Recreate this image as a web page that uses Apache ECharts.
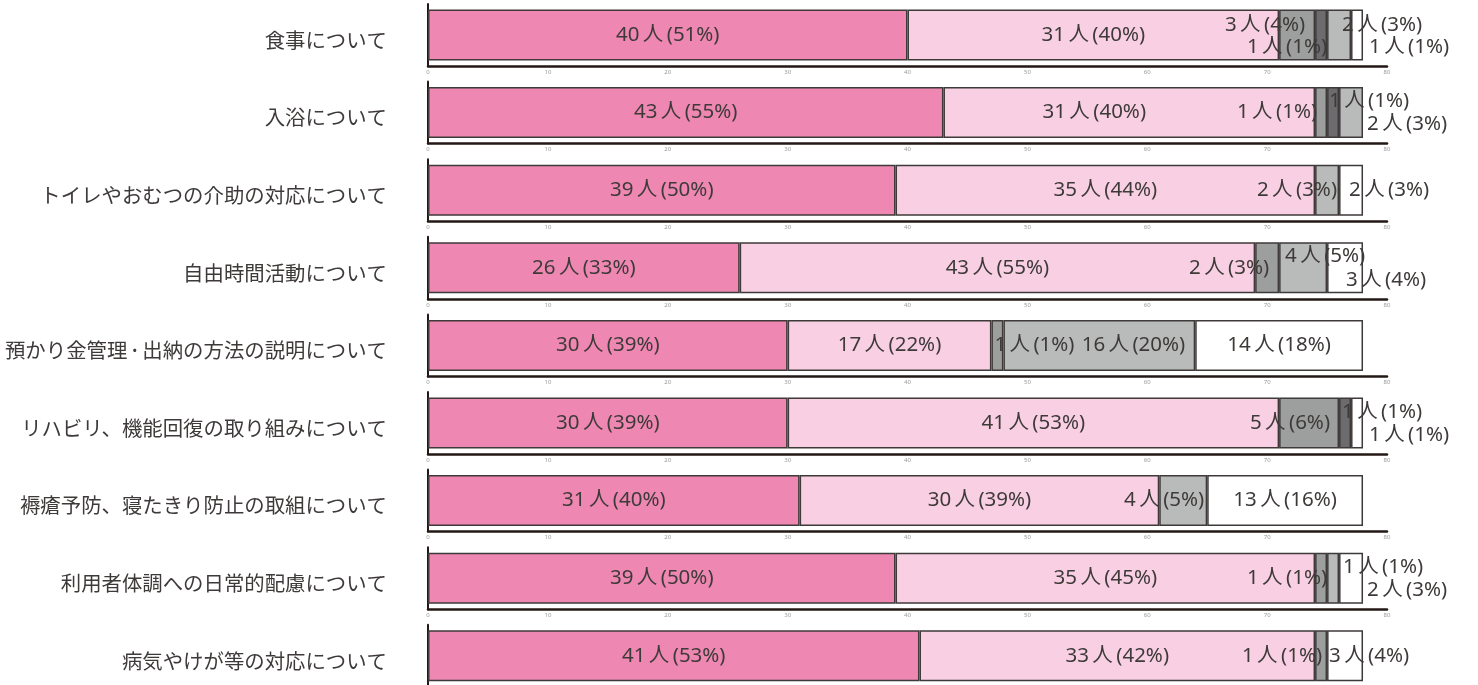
<!DOCTYPE html>
<html>
<head>
<meta charset="utf-8">
<style>
html,body{margin:0;padding:0;background:#fff;}
#chart{width:1478px;height:685px;}
</style>
<script src="https://cdn.jsdelivr.net/npm/echarts@6/dist/echarts.min.js"></script>
</head>
<body>
<div id="chart"></div>
<script>
// ---- data ----
const categories = [
  '食事について',
  '入浴について',
  'トイレやおむつの介助の対応について',
  '自由時間活動について',
  '預かり金管理・出納の方法の説明について',
  'リハビリ、機能回復の取り組みについて',
  '褥瘡予防、寝たきり防止の取組について',
  '利用者体調への日常的配慮について',
  '病気やけが等の対応について'
];
const xTicks = [0, 10, 20, 30, 40, 50, 60, 70, 80];
const count1 = [40, 43, 39, 26, 30, 30, 31, 39, 41];
const count2 = [31, 31, 35, 43, 17, 41, 30, 35, 33];
const count3 = [3, 1, 0, 2, 1, 5, 0, 1, 1];
const count4 = [1, 1, 0, 0, 0, 1, 0, 0, 0];
const count5 = [2, 2, 2, 4, 16, 0, 4, 1, 0];
const count6 = [1, 0, 2, 3, 14, 1, 13, 2, 3];
const pct1 = [51, 55, 50, 33, 39, 39, 40, 50, 53];
const pct2 = [40, 40, 44, 55, 22, 53, 39, 45, 42];
const pct3 = [4, 1, null, 3, 1, 6, null, 1, 1];
const pct4 = [1, 1, null, null, null, 1, null, null, null];
const pct5 = [3, 3, 3, 5, 20, null, 5, 1, null];
const pct6 = [1, null, 3, 4, 18, 1, 16, 3, 4];

// ---- styling / layout ----
const counts = [count1, count2, count3, count4, count5, count6];
const pcts = [pct1, pct2, pct3, pct4, pct5, pct6];
const colors = ['#ee87b1', '#f9d0e3', '#9d9f9e', '#6c6b6d', '#b9bbba', '#ffffff'];
const FONT = "'Noto Sans', 'Noto Sans CJK JP', sans-serif";
const CJK_FONT = "'Noto Sans CJK JP', 'Noto Sans', sans-serif";
const TXT = '#3e3a39';

// label placement rules: [row]-[series] -> {p: position, d: distance, o: [dx, dy]}
const place = {
  '0-2': {p: 'insideRight', d: 10, o: [0, -10]},
  '0-3': {p: 'insideRight', d: 0, o: [0, 12]},
  '0-4': {p: 'insideLeft', d: 15, o: [0, -10]},
  '0-5': {p: 'right', d: 6, o: [0, 12]},
  '1-1': {p: 'inside', d: 0, o: [-35, 0]},
  '1-2': {p: 'insideRight', d: 10, o: [0, 0]},
  '1-3': {p: 'insideLeft', d: 2, o: [0, -11]},
  '1-4': {p: 'right', d: 4, o: [0, 12]},
  '2-4': {p: 'insideRight', d: 2, o: [0, 0]},
  '2-5': {p: 'insideLeft', d: 10, o: [0, 0]},
  '3-2': {p: 'insideRight', d: 10, o: [0, 0]},
  '3-4': {p: 'insideLeft', d: 6, o: [0, -12]},
  '3-5': {p: 'insideLeft', d: 19, o: [0, 12]},
  '4-2': {p: 'insideLeft', d: 3, o: [0, 0]},
  '4-4': {p: 'insideRight', d: 10, o: [0, 0]},
  '5-2': {p: 'insideRight', d: 9, o: [0, 0]},
  '5-3': {p: 'insideLeft', d: 3, o: [0, -11]},
  '5-5': {p: 'right', d: 6, o: [0, 12]},
  '6-4': {p: 'insideRight', d: 3, o: [0, 0]},
  '7-2': {p: 'insideRight', d: 0, o: [0, 0]},
  '7-4': {p: 'right', d: 4, o: [0, -11]},
  '7-5': {p: 'right', d: 4, o: [0, 12]},
  '8-2': {p: 'insideRight', d: 5, o: [0, 0]},
  '8-5': {p: 'insideLeft', d: 2, o: [0, 0]}
};

const ROW_TOP = 4, ROW_STEP = 77.6, GRID_H = 62;
const grids = [], xAxes = [], yAxes = [], series = [];

categories.forEach((cat, i) => {
  grids.push({left: 428, right: 91, top: ROW_TOP + ROW_STEP * i, height: GRID_H,
              containLabel: false, outerBoundsMode: 'none'});
  xAxes.push({
    type: 'value', gridIndex: i, min: 0, max: 80, interval: 10,
    axisLine: {show: true, onZero: false, lineStyle: {color: '#231815', width: 2.5}},
    axisTick: {show: false},
    splitLine: {show: false},
    axisLabel: {fontSize: 6, color: '#999', margin: 3, fontFamily: FONT,
      formatter: v => xTicks.includes(v) ? String(v) : ''}
  });
  yAxes.push({
    type: 'category', gridIndex: i, data: [cat],
    axisLine: {show: true, lineStyle: {color: '#231815', width: 2}},
    axisTick: {show: false},
    axisLabel: {fontSize: 20.4, color: TXT, margin: 41, fontFamily: CJK_FONT,
      verticalAlign: 'top', lineHeight: 10,
      formatter: v => v.replace('・', '{d|・}'),
      rich: {d: {fontSize: 15, lineHeight: 10, color: TXT, fontFamily: CJK_FONT}}}
  });
  counts.forEach((arr, s) => {
    const v = arr[i];
    const pl = place[i + '-' + s] || {p: 'inside', d: 0, o: [0, 0]};
    const pc = pcts[s][i];
    series.push({
      type: 'bar', xAxisIndex: i, yAxisIndex: i, stack: 'row' + i,
      barWidth: 51,
      data: [v > 0 ? v : null],
      itemStyle: {color: colors[s], borderColor: '#3e3a39', borderWidth: 1.5},
      label: {
        show: v > 0, position: pl.p, distance: pl.d, offset: pl.o,
        fontSize: 20.5, color: TXT, fontFamily: FONT,
        formatter: () => v + '\u2009人\u2009(' + pc + '%)'
      },
      silent: true, animation: false
    });
  });
});

const chart = echarts.init(document.getElementById('chart'));
chart.setOption({
  animation: false,
  grid: grids, xAxis: xAxes, yAxis: yAxes, series: series
});
</script>
</body>
</html>
